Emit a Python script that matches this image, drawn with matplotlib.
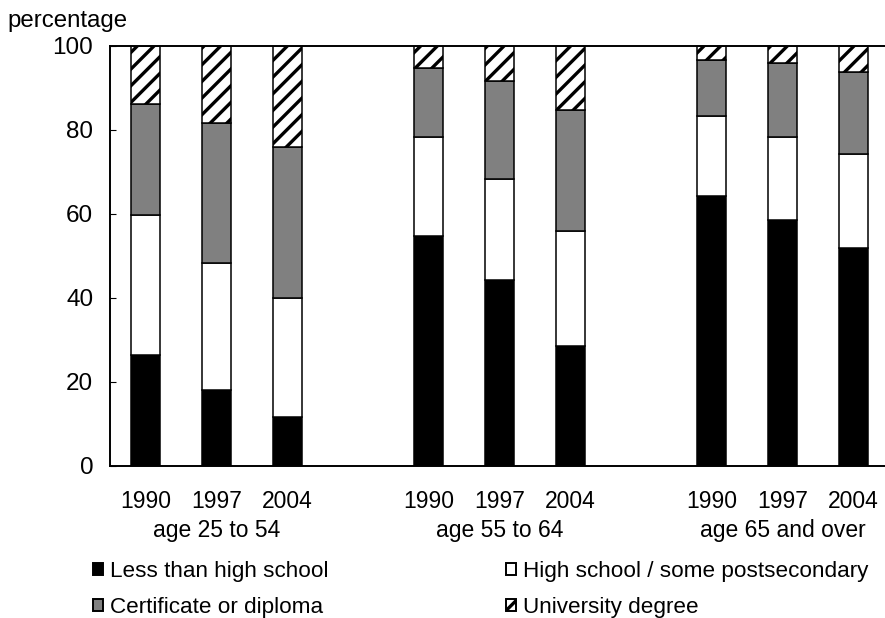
import numpy as np
import matplotlib
matplotlib.use("Agg")
import matplotlib.pyplot as plt
from matplotlib.patches import Patch

plt.rcParams['font.family'] = ['Liberation Sans', 'DejaVu Sans']
plt.rcParams['hatch.linewidth'] = 2.4

# bars in order: 1990, 1997, 2004 for each age group
years = ["1990", "1997", "2004"] * 3
groups = ["age 25 to 54", "age 55 to 64", "age 65 and over"]
less_hs = [26.4, 18.1, 11.7, 54.8, 44.3, 28.6, 64.4, 58.6, 51.8]
high_school = [33.4, 30.2, 28.2, 23.6, 24.0, 27.4, 18.9, 19.8, 22.5]
certificate = [26.3, 33.4, 36.1, 16.3, 23.4, 28.8, 13.4, 17.5, 19.6]
university = [13.9, 18.3, 24.0, 5.3, 8.3, 15.2, 3.3, 4.1, 6.1]

series = [
    ("Less than high school", less_hs, "black", None),
    ("High school / some postsecondary", high_school, "white", None),
    ("Certificate or diploma", certificate, "#808080", None),
    ("University degree", university, "white", "//"),
]

x = np.array([0, 1, 2, 4, 5, 6, 8, 9, 10])

fig = plt.figure(figsize=(8.85, 6.18), dpi=100)
ax = fig.add_axes([110 / 885, 1 - 466 / 618, 779 / 885, 420 / 618])

bottom = np.zeros(len(x))
handles = []
for name, vals, color, hatch in series:
    vals = np.array(vals)
    ax.bar(x, vals, width=0.41, bottom=bottom, color=color, edgecolor="black",
           linewidth=1.1, hatch=hatch, zorder=2)
    bottom += vals
    handles.append(Patch(facecolor=color, edgecolor="black", linewidth=1.4,
                         hatch=hatch, label=name))

ax.set_xlim(-0.5, 10.5)
ax.set_ylim(0, 100)
ax.set_yticks(range(0, 101, 20))
ax.tick_params(axis="y", direction="in", length=4, width=0.8, labelsize=17.5, pad=12)
ax.set_xticks(x)
ax.set_xticklabels(years)
ax.tick_params(axis="x", length=0, labelsize=16.5, pad=17)

for s in ["left", "bottom", "top"]:
    ax.spines[s].set_linewidth(1.4)
ax.spines["right"].set_visible(False)

for i, g in enumerate(groups):
    ax.text(x[i * 3 + 1], -0.153, g, transform=ax.get_xaxis_transform(),
            ha="center", va="center", fontsize=16.5)

fig.text(7 / 885, 1 - 21 / 618, "percentage", ha="left", va="center", fontsize=17.3)

# column-wise fill: first column gets entries 0 and 2
order = [0, 2, 1, 3]
fig.legend([handles[i] for i in order], [handles[i].get_label() for i in order],
           ncol=2, loc="upper left", bbox_to_anchor=(93 / 885, 1 - 561 / 618),
           frameon=False, fontsize=16.2, handlelength=0.45, handleheight=0.45,
           handletextpad=0.3, columnspacing=7.9, borderpad=0, borderaxespad=0,
           labelspacing=0.65)

fig.savefig("out.png", dpi=100)
